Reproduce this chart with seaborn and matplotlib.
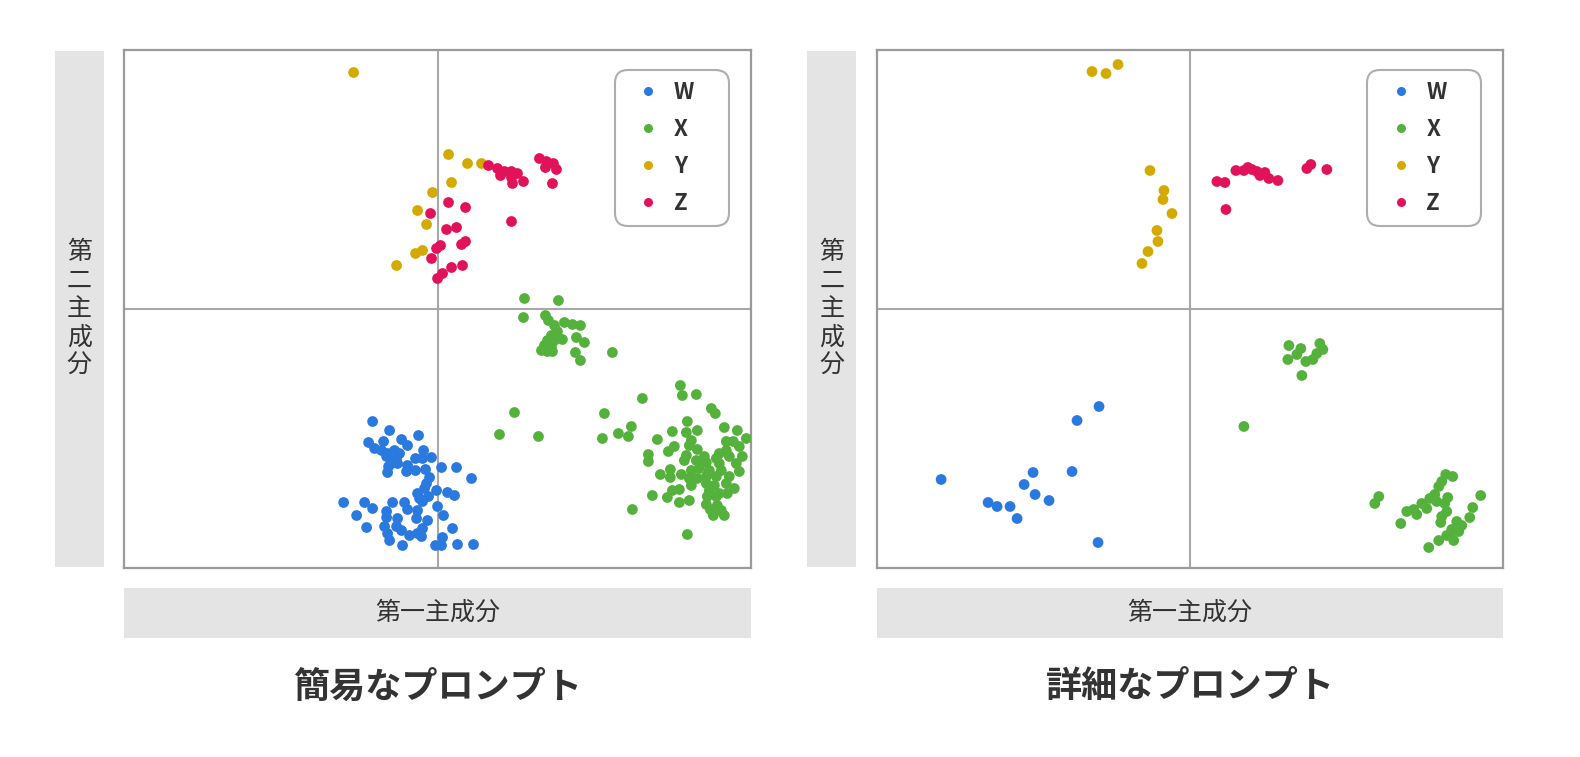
import numpy as np
import pandas as pd
import matplotlib
matplotlib.use("Agg")
import matplotlib.pyplot as plt
import seaborn as sns

# Principal component scores (PC1, PC2) per group
simple_W = [(-0.65, -1.13), (-0.48, -1.22), (-0.19, -1.27), (-0.69, -1.34), (-0.54, -1.33),
            (-0.36, -1.31), (-0.30, -1.37), (-0.63, -1.40), (-0.56, -1.42), (-0.50, -1.45),
            (-0.43, -1.42), (-0.38, -1.45), (-0.51, -1.48), (-0.41, -1.50), (-0.46, -1.55),
            (-0.14, -1.42), (-0.22, -1.50), (-0.15, -1.50), (-0.06, -1.49), (-0.49, -1.58),
            (-0.50, -1.64), (-0.40, -1.55), (-0.30, -1.57), (-0.31, -1.63), (-0.22, -1.62),
            (-0.12, -1.61), (0.04, -1.59), (0.19, -1.59), (0.34, -1.70), (-0.08, -1.69),
            (-0.11, -1.75), (-0.13, -1.80), (-0.20, -1.85), (-0.01, -1.82), (0.10, -1.84),
            (0.17, -1.87), (-0.18, -1.90), (-0.09, -1.88), (-0.15, -1.93), (-0.94, -1.94),
            (-0.73, -1.94), (-0.45, -1.94), (-0.33, -1.94), (-0.30, -2.01), (-0.65, -2.00),
            (-0.51, -2.03), (-0.20, -2.02), (0.00, -1.98), (-0.81, -2.07), (-0.51, -2.09),
            (-0.40, -2.10), (-0.21, -2.10), (0.06, -2.07), (-0.10, -2.12), (-0.53, -2.18),
            (-0.71, -2.19), (-0.41, -2.18), (-0.36, -2.22), (-0.15, -2.20), (0.15, -2.20),
            (-0.50, -2.25), (-0.28, -2.27), (-0.20, -2.25), (-0.16, -2.28), (-0.48, -2.32),
            (0.05, -2.29), (-0.35, -2.37), (-0.02, -2.37), (0.04, -2.37), (0.20, -2.36),
            (0.36, -2.36)]
simple_X = [(0.87, 0.10), (1.21, 0.08), (0.86, -0.09), (1.08, -0.07), (1.11, -0.12),
            (1.17, -0.17), (1.27, -0.14), (1.35, -0.16), (1.43, -0.17), (1.20, -0.23),
            (1.14, -0.27), (1.25, -0.31), (1.10, -0.32), (1.17, -0.32), (1.07, -0.37),
            (1.14, -0.38), (1.04, -0.42), (1.10, -0.43), (1.15, -0.43), (1.39, -0.29),
            (1.47, -0.34), (1.38, -0.44), (1.43, -0.52), (1.75, -0.44), (0.77, -1.04),
            (0.62, -1.26), (1.01, -1.28), (1.67, -1.05),
            (2.43, -0.77), (2.45, -0.87), (2.59, -0.86), (2.05, -0.90), (2.74, -1.00),
            (2.78, -1.05), (2.50, -1.13), (1.65, -1.30), (1.81, -1.25), (1.94, -1.18),
            (1.91, -1.28), (2.35, -1.23), (2.49, -1.24), (2.60, -1.22), (2.87, -1.19),
            (3.00, -1.22), (3.09, -1.30), (2.20, -1.31), (2.54, -1.32), (2.89, -1.33),
            (2.96, -1.33), (2.37, -1.38), (2.31, -1.43), (2.52, -1.37), (2.60, -1.41),
            (3.02, -1.38), (2.82, -1.45), (2.89, -1.42), (2.11, -1.46), (2.11, -1.53),
            (2.49, -1.47), (2.67, -1.48), (2.79, -1.50), (2.92, -1.48), (3.05, -1.48),
            (2.47, -1.52), (2.59, -1.52), (2.69, -1.54), (2.82, -1.55), (2.99, -1.55),
            (2.33, -1.61), (2.23, -1.66), (2.33, -1.69), (2.44, -1.66), (2.54, -1.62),
            (2.62, -1.60), (2.72, -1.62), (2.84, -1.62), (3.02, -1.63), (2.52, -1.70),
            (2.60, -1.70), (2.69, -1.68), (2.79, -1.68), (2.92, -1.68), (2.54, -1.77),
            (2.69, -1.75), (2.77, -1.77), (2.89, -1.75), (2.97, -1.80), (2.35, -1.82),
            (2.42, -1.81), (2.72, -1.82), (2.82, -1.85), (2.90, -1.85), (2.15, -1.87),
            (2.30, -1.89), (2.70, -1.88), (2.79, -1.88), (2.42, -1.94), (2.52, -1.92),
            (2.69, -1.96), (2.80, -1.97), (2.73, -2.01), (2.84, -2.02), (2.76, -2.07),
            (2.87, -2.07), (1.95, -2.01), (2.50, -2.26)]
simple_Y = [(0.11, 1.54), (0.30, 1.45), (0.44, 1.45), (0.14, 1.26), (-0.05, 1.16),
            (-0.20, 0.98), (-0.11, 0.84), (-0.15, 0.58), (-0.22, 0.55), (-0.41, 0.43),
            (-0.84, 2.36)]
simple_Z = [(0.51, 1.43), (0.60, 1.40), (0.63, 1.33), (0.67, 1.37), (0.74, 1.37),
            (0.80, 1.35), (0.75, 1.25), (0.74, 1.31), (0.86, 1.27), (1.02, 1.50),
            (1.09, 1.47), (1.16, 1.45), (1.08, 1.41), (1.19, 1.39), (1.15, 1.25),
            (0.11, 1.06), (0.28, 1.01), (-0.07, 0.95), (0.74, 0.87), (0.09, 0.79),
            (0.19, 0.81), (0.28, 0.67), (0.24, 0.64), (0.03, 0.63), (-0.01, 0.60),
            (-0.06, 0.50), (0.14, 0.41), (0.25, 0.43), (0.05, 0.35), (0.00, 0.30)]

detail_W = [(-2.49, -1.71), (-2.02, -1.94), (-1.93, -1.98), (-1.80, -1.98), (-1.73, -2.10),
            (-1.66, -1.76), (-1.57, -1.64), (-1.55, -1.86), (-1.41, -1.92), (-1.18, -1.63),
            (-1.13, -1.12), (-0.91, -0.98), (-0.92, -2.34)]
detail_X = [(0.99, -0.37), (1.11, -0.40), (1.07, -0.46), (0.98, -0.51), (1.16, -0.53),
            (1.23, -0.51), (1.27, -0.45), (1.30, -0.35), (1.33, -0.41), (1.12, -0.67),
            (0.54, -1.18),
            (1.89, -1.88), (1.85, -1.95), (2.11, -2.15), (2.17, -2.03), (2.24, -2.01),
            (2.27, -2.06), (2.32, -1.95), (2.37, -2.00), (2.40, -1.90), (2.45, -1.86),
            (2.49, -1.78), (2.52, -1.73), (2.56, -1.66), (2.63, -1.68), (2.58, -1.89),
            (2.55, -1.95), (2.57, -2.03), (2.52, -2.08), (2.51, -2.14), (2.47, -1.93),
            (2.39, -2.39), (2.49, -2.32), (2.57, -2.27), (2.62, -2.21), (2.64, -2.32),
            (2.67, -2.13), (2.72, -2.17), (2.60, -2.27), (2.69, -2.23), (2.80, -2.09),
            (2.83, -1.99), (2.91, -1.87)]
detail_Y = [(-0.72, 2.44), (-0.84, 2.35), (-0.98, 2.37), (-0.40, 1.38), (-0.26, 1.18),
            (-0.27, 1.09), (-0.18, 0.95), (-0.33, 0.78), (-0.32, 0.67), (-0.42, 0.57),
            (-0.48, 0.45)]
detail_Z = [(0.27, 1.27), (0.35, 1.26), (0.36, 0.99), (0.46, 1.38), (0.54, 1.38),
            (0.58, 1.41), (0.62, 1.39), (0.67, 1.37), (0.70, 1.33), (0.75, 1.36),
            (0.79, 1.30), (0.88, 1.28), (1.17, 1.40), (1.21, 1.44), (1.37, 1.39)]

groups = ['W', 'X', 'Y', 'Z']
palette = {'W': '#2979de', 'X': '#54b23c', 'Y': '#d5aa00', 'Z': '#e1125a'}
titles = ['簡易なプロンプト', '詳細なプロンプト']
x_label = '第一主成分'
y_label = '第二主成分'

TEXT = '#333333'
BOX = '#e4e4e4'
FRAME = '#9a9a9a'


def to_frame(parts):
    rows = []
    for g, pts in zip(groups, parts):
        for x, y in pts:
            rows.append({'pc1': x, 'pc2': y, 'group': g})
    return pd.DataFrame(rows)


panels = [to_frame([simple_W, simple_X, simple_Y, simple_Z]),
          to_frame([detail_W, detail_X, detail_Y, detail_Z])]

sns.set_theme(style='white')
plt.rcParams['font.family'] = ['Noto Sans CJK JP', 'DejaVu Sans']

W_PX, H_PX = 1580, 757
fig = plt.figure(figsize=(W_PX / 100, H_PX / 100), dpi=100)


def rect(x0, y0, x1, y1):
    """pixel box (top-left origin) -> figure fraction rect"""
    return [x0 / W_PX, 1 - y1 / H_PX, (x1 - x0) / W_PX, (y1 - y0) / H_PX]


def label_box(r, text, vertical=False):
    bx = fig.add_axes(r)
    bx.set_facecolor(BOX)
    bx.set_xticks([])
    bx.set_yticks([])
    for sp in bx.spines.values():
        sp.set_visible(False)
    if vertical:
        text = '\n'.join(text)
    bx.text(0.5, 0.5, text, ha='center', va='center', fontsize=18,
            color=TEXT, linespacing=1.12, transform=bx.transAxes)


offsets = [124.3, 876.7]
for i, df in enumerate(panels):
    x0 = offsets[i]
    x1 = x0 + 626.5
    ax = fig.add_axes(rect(x0, 49.5, x1, 567.5))
    ax.axhline(0, color='#a8a8a8', lw=1.5, zorder=1)
    ax.axvline(0, color='#a8a8a8', lw=1.5, zorder=1)
    sns.scatterplot(data=df, x='pc1', y='pc2', hue='group', hue_order=groups,
                    palette=palette, s=60, linewidth=0, ax=ax, zorder=3)
    ax.set_xlim(-3.135, 3.135)
    ax.set_ylim(-2.59, 2.59)
    ax.set_xticks([])
    ax.set_yticks([])
    ax.set_xlabel('')
    ax.set_ylabel('')
    for sp in ax.spines.values():
        sp.set_color(FRAME)
        sp.set_linewidth(1.6)

    handles, labels = ax.get_legend_handles_labels()
    for h in handles:
        h.set_markersize(6.5)
    leg = ax.legend(handles, labels, loc='upper left',
                    bbox_to_anchor=(0.7827, 0.0, 0.1821, 0.961), mode='expand',
                    borderaxespad=0, frameon=True, fancybox=True,
                    prop={'weight': 'bold', 'size': 16},
                    labelspacing=0.62, borderpad=0.52, handlelength=2.0,
                    handletextpad=0.15)
    leg.get_frame().set_edgecolor(FRAME)
    leg.get_frame().set_linewidth(1.5)
    leg.get_frame().set_boxstyle('round', pad=0.0, rounding_size=0.6)
    for t in leg.get_texts():
        t.set_color(TEXT)

    label_box(rect(x0 - 69.6, 51, x0 - 20.3, 567.3), y_label, vertical=True)
    label_box(rect(x0, 588.3, x1, 637.7), x_label)
    fig.text((x0 + x1) / 2 / W_PX, 1 - 687 / H_PX, titles[i], ha='center',
             va='center', fontsize=26, fontweight='bold', color=TEXT)

fig.savefig('out.png', dpi=100, facecolor='white')
